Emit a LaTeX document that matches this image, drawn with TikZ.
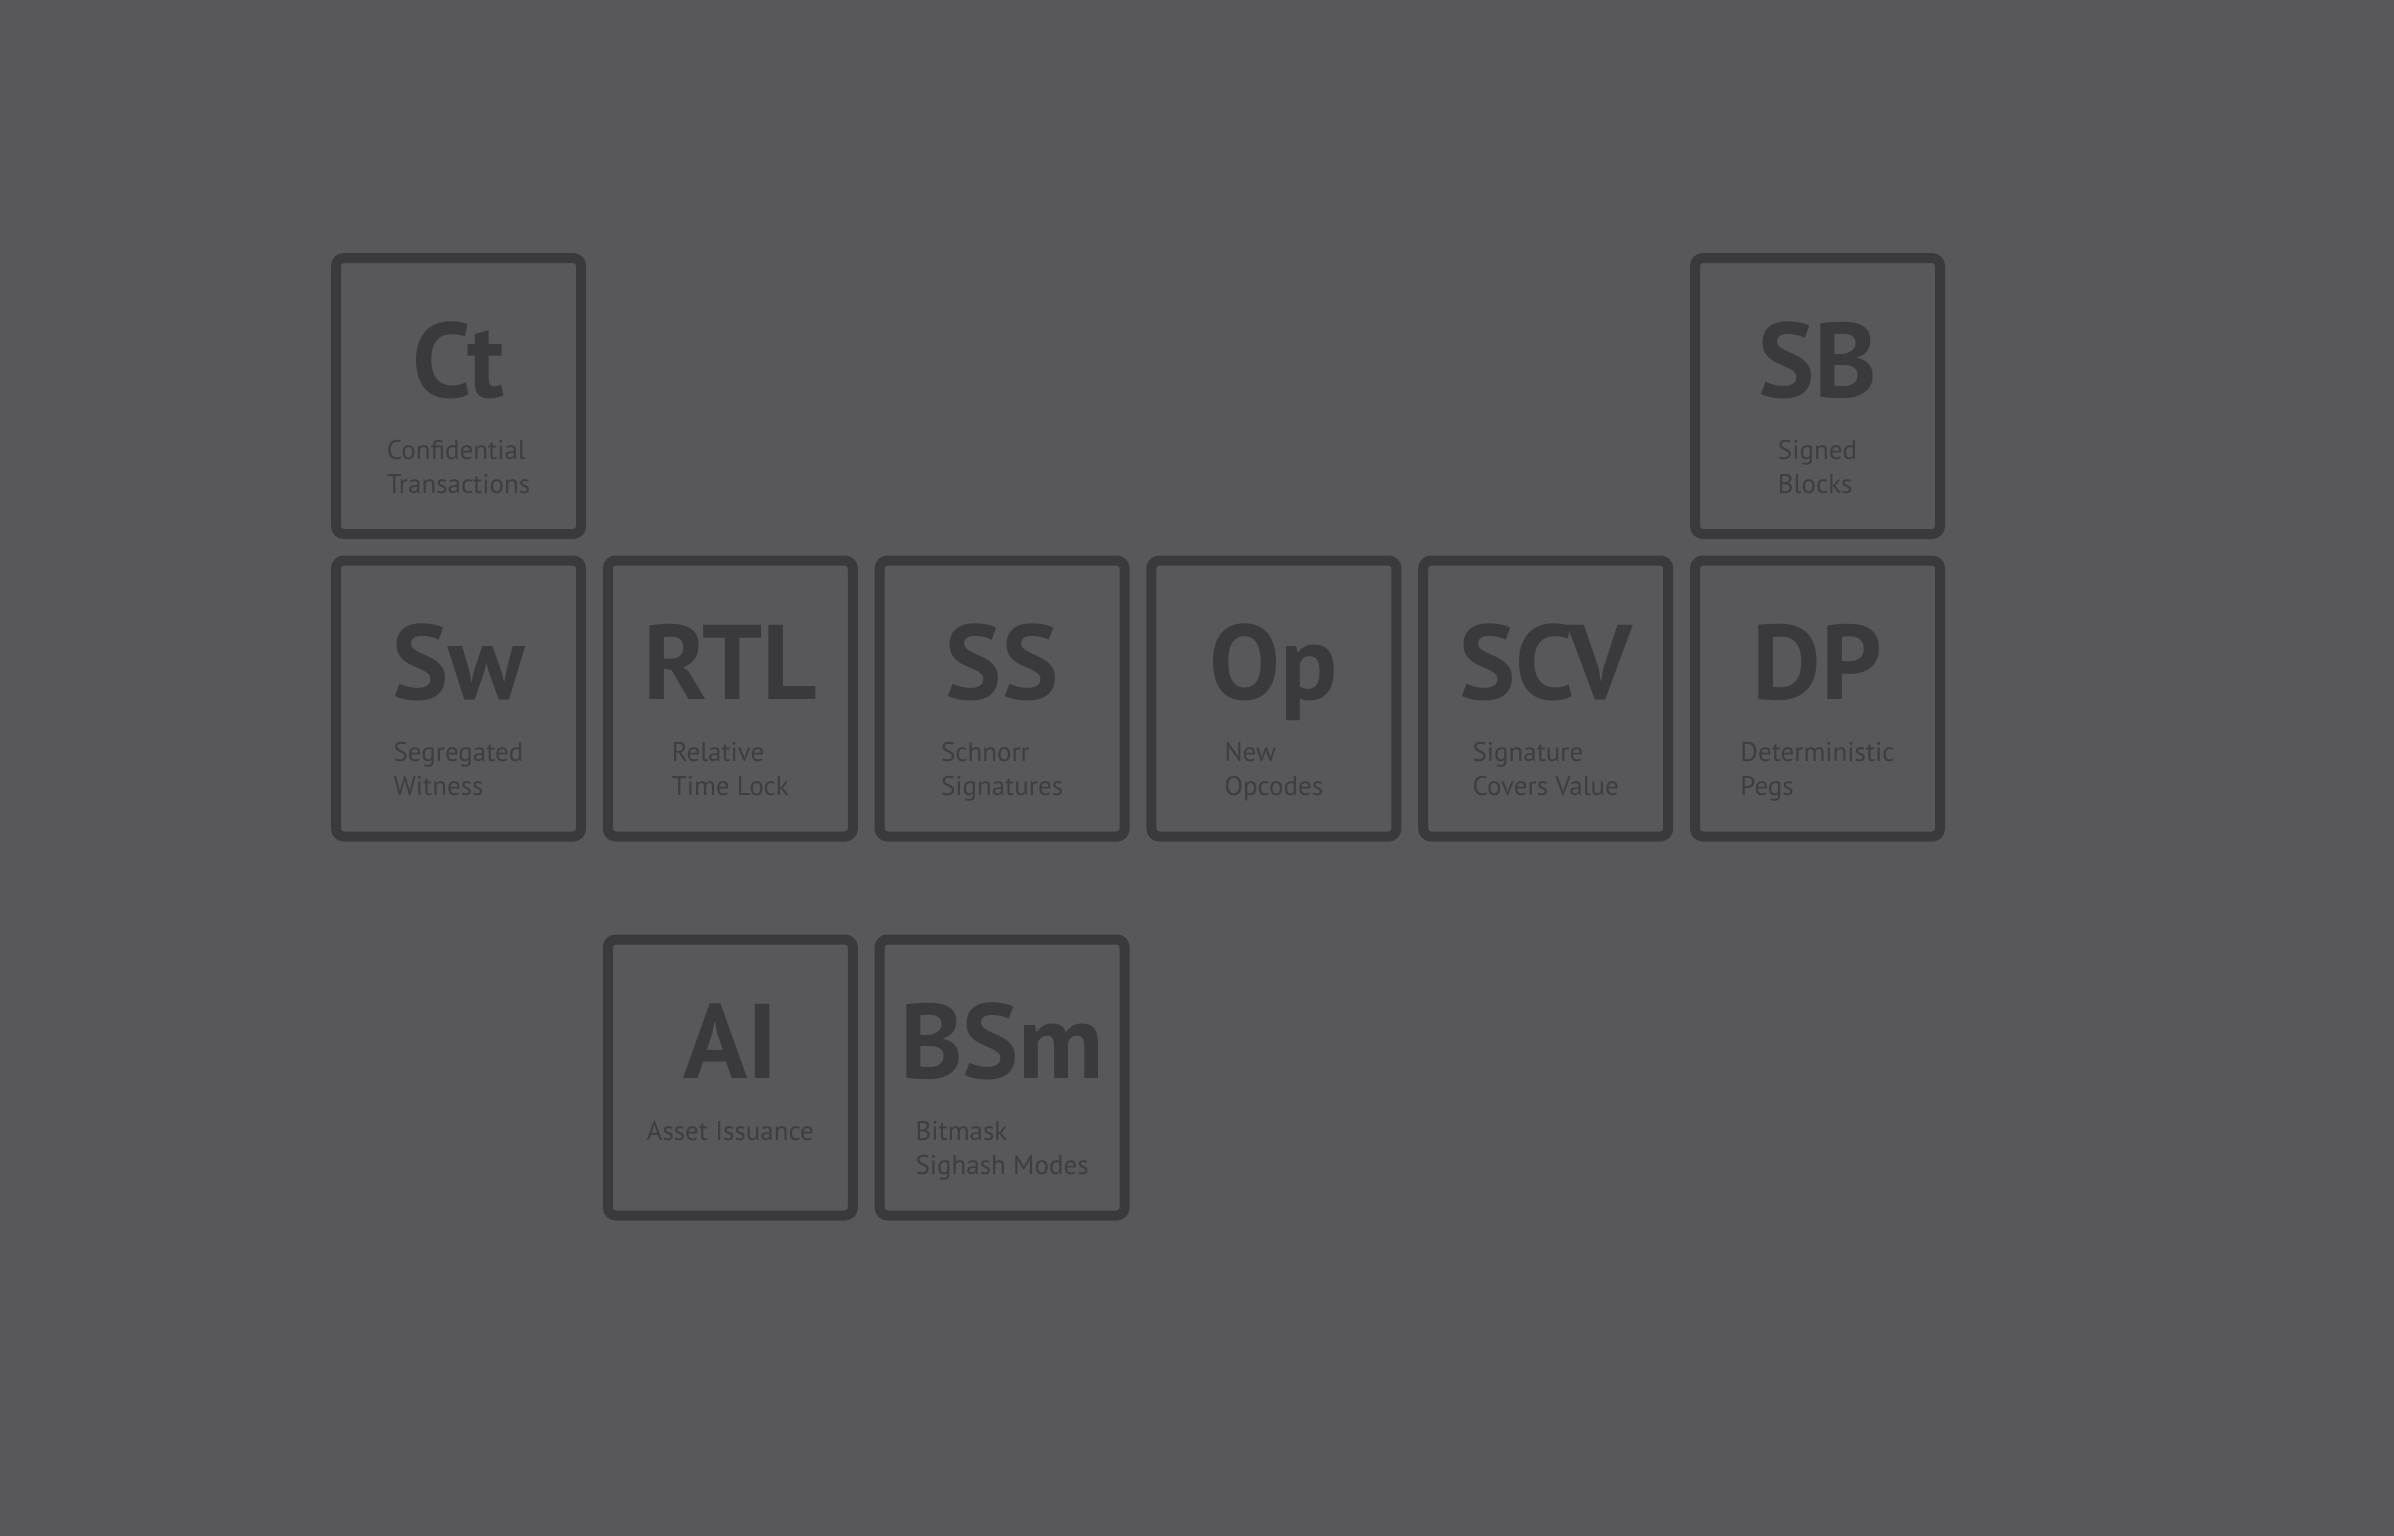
\documentclass[tikz,border=0pt]{standalone}
\usepackage{fontspec}
\setmainfont{PT Sans}
\usetikzlibrary{calc}
\definecolor{bg}{HTML}{58585A}
\definecolor{ink}{HTML}{3A3A3C}
\definecolor{lblink}{HTML}{3E3E40}
\tikzset{
  tile/.style={draw=ink, line width=5pt, rounded corners=4pt,
    minimum width=122.5pt, minimum height=138pt, inner sep=0pt},
  sym/.style={text=ink, font=\fontsize{53}{53}\selectfont\bfseries, inner sep=0pt},
  lbl/.style={text=lblink, font=\fontsize{13.5}{17}\selectfont, align=left, inner sep=0pt}
}
% #6: offset of the label's last baseline below the tile's top edge
\newcommand\elemtile[6]{%
  \node[tile] (#1) at (#2,#3) {};
  \node[sym, anchor=base] (#1-sym) at ($(#1.north)+(0,144)$) {#4};
  \node[lbl, anchor=base] (#1-lbl) at ($(#1.north)+(0,#6)$) {#5};
}
\begin{document}
\begin{tikzpicture}[x=0.5pt, y=-0.5pt]
\fill[bg] (0,0) rectangle (2394,1536);
\useasboundingbox (0,0) rectangle (2394,1536);
\elemtile{ct}{458.5}{396}{Ct}{Confidential\\Transactions}{240}
\elemtile{sb}{1817.5}{396}{SB}{Signed\\Blocks}{240}
\elemtile{sw}{458.5}{698.5}{Sw}{Segregated\\Witness}{240}
\elemtile{rtl}{730.3}{698.5}{RTL}{Relative\\Time Lock}{240}
\elemtile{ss}{1002.1}{698.5}{SS}{Schnorr\\Signatures}{240}
\elemtile{op}{1273.9}{698.5}{Op}{New\\Opcodes}{240}
\elemtile{scv}{1545.7}{698.5}{SCV}{Signature\\Covers Value}{240}
\elemtile{dp}{1817.5}{698.5}{DP}{Deterministic\\Pegs}{240}
\elemtile{ai}{730.3}{1077.5}{AI}{Asset Issuance}{206}
\elemtile{bsm}{1002.1}{1077.5}{BSm}{Bitmask\\Sighash Modes}{240}
\end{tikzpicture}
\end{document}
